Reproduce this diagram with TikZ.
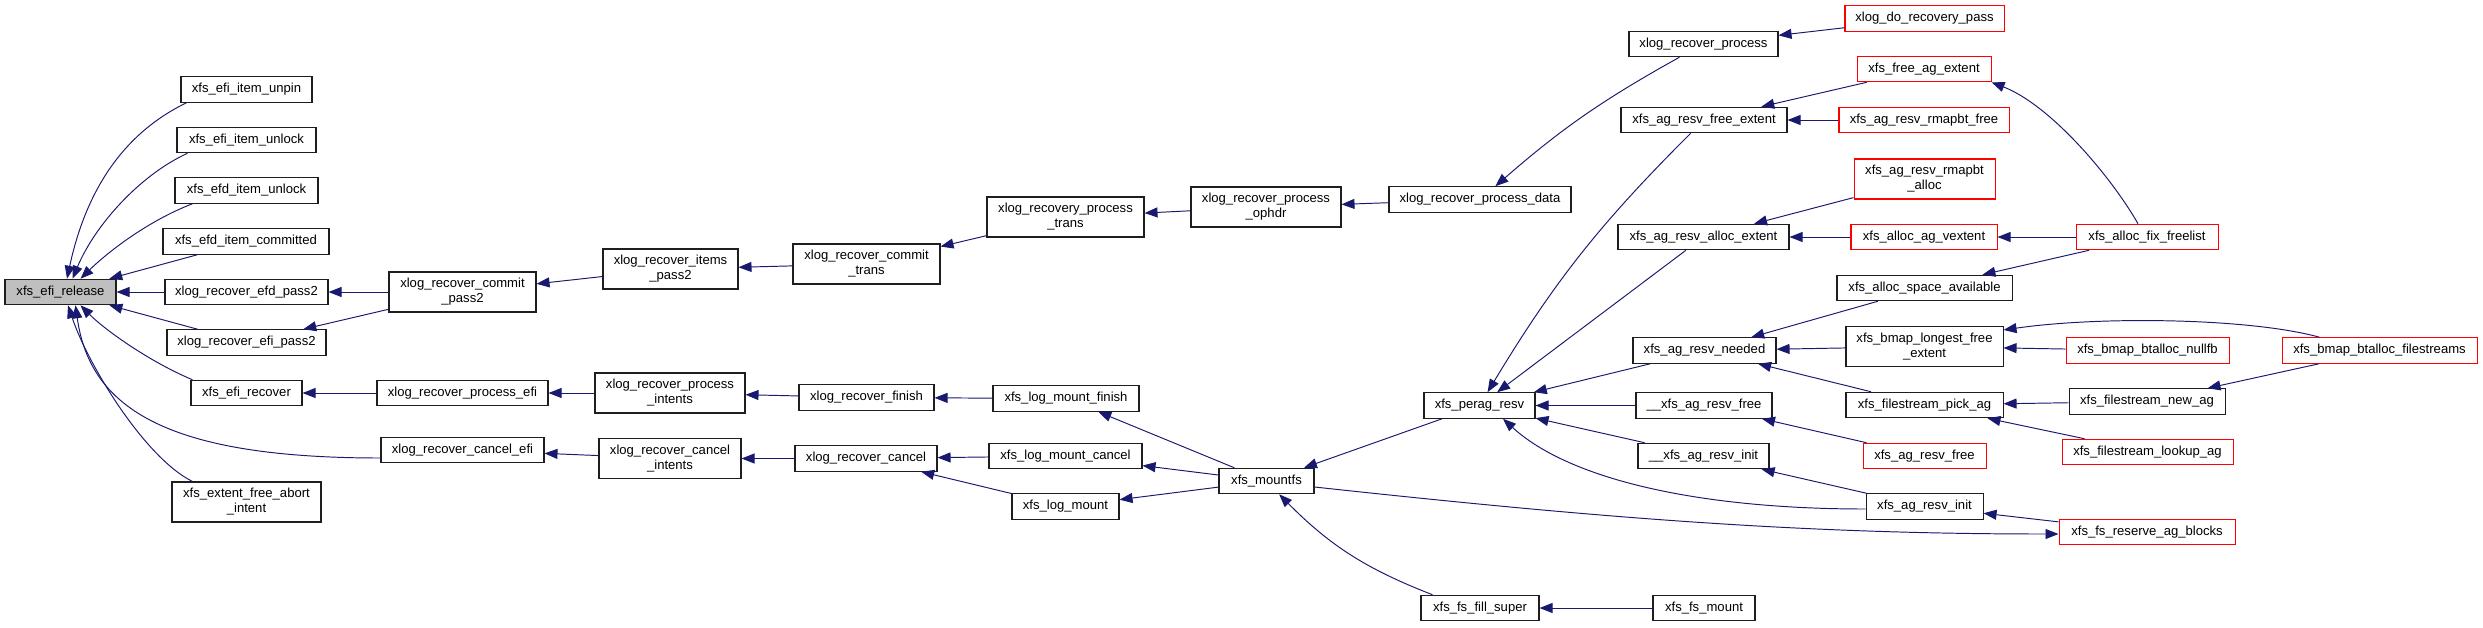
\documentclass[tikz,border=0pt]{standalone}
\usepackage{fontspec}
\setmainfont{Liberation Sans}
\usetikzlibrary{arrows.meta}
\definecolor{edgeC}{RGB}{25,25,112}
\definecolor{rootC}{RGB}{191,191,191}
\definecolor{boxC}{RGB}{30,30,30}
\definecolor{redC}{RGB}{255,0,0}
\tikzset{
  fnbox/.style={rectangle, draw=#1, line width=0.6pt, fill=white, align=center,
                font=\fontsize{7.45}{8.5}\selectfont, inner sep=0pt, minimum height=25.5*0.2mm},
  twoline/.style={minimum height=40*0.2mm},
  wd/.style={minimum width=#1*0.2mm},
  arr/.style={-{Triangle[length=2.6mm, width=2mm]}, line width=0.55pt, draw=edgeC},
}
\begin{document}
\begin{tikzpicture}[x=0.2mm, y=0.2mm]
    \useasboundingbox (0,0) rectangle (2483,-627);
    \node[fnbox=boxC, fill=rootC, wd=111] (rel) at (60.5,-292) {xfs\_efi\_release};
    \node[fnbox=boxC, wd=131] (unpin) at (246.5,-89.5) {xfs\_efi\_item\_unpin};
    \node[fnbox=boxC, wd=139] (unlock) at (246.5,-140) {xfs\_efi\_item\_unlock};
    \node[fnbox=boxC, wd=143] (efdunlock) at (246.5,-190.5) {xfs\_efd\_item\_unlock};
    \node[fnbox=boxC, wd=166] (efdcomm) at (246,-241.5) {xfs\_efd\_item\_committed};
    \node[fnbox=boxC, wd=163] (efdpass) at (246.5,-292) {xlog\_recover\_efd\_pass2};
    \node[fnbox=boxC, wd=159] (efipass) at (246.5,-342.5) {xlog\_recover\_efi\_pass2};
    \node[fnbox=boxC, wd=111] (efirec) at (246.5,-393) {xfs\_efi\_recover};
    \node[fnbox=boxC, wd=149, twoline] (abort) at (246.5,-502) {xfs\_extent\_free\_abort\\\_intent};
    \node[fnbox=boxC, wd=147, twoline] (commitpass) at (462.5,-292) {xlog\_recover\_commit\\\_pass2};
    \node[fnbox=boxC, wd=171] (procefi) at (462.5,-393) {xlog\_recover\_process\_efi};
    \node[fnbox=boxC, wd=163] (cancelefi) at (462.5,-450) {xlog\_recover\_cancel\_efi};
    \node[fnbox=boxC, wd=135, twoline] (itemspass) at (670.5,-269) {xlog\_recover\_items\\\_pass2};
    \node[fnbox=boxC, wd=150, twoline] (procintents) at (670,-393) {xlog\_recover\_process\\\_intents};
    \node[fnbox=boxC, wd=142, twoline] (cancelintents) at (670,-458.5) {xlog\_recover\_cancel\\\_intents};
    \node[fnbox=boxC, wd=147, twoline] (committrans) at (866.5,-264) {xlog\_recover\_commit\\\_trans};
    \node[fnbox=boxC, wd=135] (recfinish) at (866.5,-397.5) {xlog\_recover\_finish};
    \node[fnbox=boxC, wd=142] (reccancel) at (866,-458.5) {xlog\_recover\_cancel};
    \node[fnbox=boxC, wd=157, twoline] (proctrans) at (1065.5,-217) {xlog\_recovery\_process\\\_trans};
    \node[fnbox=boxC, wd=146] (lmfinish) at (1066,-398.5) {xfs\_log\_mount\_finish};
    \node[fnbox=boxC, wd=153] (lmcancel) at (1065.5,-456) {xfs\_log\_mount\_cancel};
    \node[fnbox=boxC, wd=107] (logmount) at (1065.5,-506.5) {xfs\_log\_mount};
    \node[fnbox=boxC, wd=150, twoline] (ophdr) at (1266,-207) {xlog\_recover\_process\\\_ophdr};
    \node[fnbox=boxC, wd=95] (mountfs) at (1266.5,-481) {xfs\_mountfs};
    \node[fnbox=boxC, wd=182] (procdata) at (1480,-199.5) {xlog\_recover\_process\_data};
    \node[fnbox=boxC, wd=111] (peragresv) at (1479.5,-405.5) {xfs\_perag\_resv};
    \node[fnbox=boxC, wd=118] (fillsuper) at (1480,-608) {xfs\_fs\_fill\_super};
    \node[fnbox=boxC, wd=149] (recproc) at (1703.5,-44) {xlog\_recover\_process};
    \node[fnbox=boxC, wd=166] (freeext) at (1704,-120) {xfs\_ag\_resv\_free\_extent};
    \node[fnbox=boxC, wd=171] (allocext) at (1703.5,-237) {xfs\_ag\_resv\_alloc\_extent};
    \node[fnbox=boxC, wd=143] (needed) at (1704.5,-350.5) {xfs\_ag\_resv\_needed};
    \node[fnbox=boxC, wd=136] (uufree) at (1704,-405.5) {\_\_xfs\_ag\_resv\_free};
    \node[fnbox=boxC, wd=131] (uuinit) at (1703.5,-456) {\_\_xfs\_ag\_resv\_init};
    \node[fnbox=boxC, wd=102] (fsmount) at (1704,-608) {xfs\_fs\_mount};
    \node[fnbox=redC, wd=159] (dopass) at (1924.5,-18.5) {xlog\_do\_recovery\_pass};
    \node[fnbox=redC, wd=134] (freeagext) at (1924,-69) {xfs\_free\_ag\_extent};
    \node[fnbox=redC, wd=170] (rmapfree) at (1924,-120) {xfs\_ag\_resv\_rmapbt\_free};
    \node[fnbox=redC, wd=141, twoline] (rmapalloc) at (1924.5,-179) {xfs\_ag\_resv\_rmapbt\\\_alloc};
    \node[fnbox=redC, wd=146] (agvext) at (1924,-237) {xfs\_alloc\_ag\_vextent};
    \node[fnbox=boxC, wd=175] (spaceavail) at (1924.5,-288) {xfs\_alloc\_space\_available};
    \node[fnbox=boxC, wd=157, twoline] (longest) at (1924.5,-346.5) {xfs\_bmap\_longest\_free\\\_extent};
    \node[fnbox=boxC, wd=157] (pickag) at (1924.5,-405) {xfs\_filestream\_pick\_ag};
    \node[fnbox=redC, wd=123] (agresvfree) at (1924.5,-456) {xfs\_ag\_resv\_free};
    \node[fnbox=boxC, wd=117] (agresvinit) at (1924.5,-506.5) {xfs\_ag\_resv\_init};
    \node[fnbox=redC, wd=142] (fixfree) at (2147,-237) {xfs\_alloc\_fix\_freelist};
    \node[fnbox=redC, wd=163] (nullfb) at (2147.5,-350.5) {xfs\_bmap\_btalloc\_nullfb};
    \node[fnbox=boxC, wd=156] (newag) at (2147,-401.5) {xfs\_filestream\_new\_ag};
    \node[fnbox=redC, wd=171] (lookupag) at (2147.5,-452) {xfs\_filestream\_lookup\_ag};
    \node[fnbox=redC, wd=176] (reserve) at (2147,-532) {xfs\_fs\_reserve\_ag\_blocks};
    \node[fnbox=redC, wd=195] (btfilestr) at (2379.5,-350.5) {xfs\_bmap\_btalloc\_filestreams};

    \draw[arr] ([xshift=1.2mm]unpin.south west) .. controls (120,-135) and (85,-195) .. ([xshift=1.3mm]rel.north);
    \draw[arr] ([xshift=2.2mm]unlock.south west) .. controls (140,-175) and (95,-225) .. ([xshift=2.4mm]rel.north);
    \draw[arr] ([xshift=3.6mm]efdunlock.south west) .. controls (150,-220) and (110,-250) .. ([xshift=4mm]rel.north);
    \draw[arr] (efdcomm) -- (rel); \draw[arr] (efdpass) -- (rel); \draw[arr] (efipass) -- (rel);
    \draw[arr] ([xshift=0.4mm]efirec.north west) .. controls (150,-362) and (105,-330) .. ([xshift=4mm]rel.south);
    \draw[arr] ([yshift=-1.6mm]cancelefi.west) .. controls (170,-458) and (90,-410) .. ([xshift=3mm]rel.south);
    \draw[arr] ([xshift=4.2mm]abort.north west) .. controls (145,-458) and (88,-365) .. ([xshift=1.5mm]rel.south);
    \draw[arr] (commitpass) -- (efdpass); \draw[arr] (commitpass) -- (efipass);
    \draw[arr] (itemspass) -- (commitpass); \draw[arr] (committrans) -- (itemspass);
    \draw[arr] (proctrans) -- (committrans); \draw[arr] (ophdr) -- (proctrans);
    \draw[arr] (procdata) -- (ophdr); \draw[arr] (recproc) to[bend right=6] (procdata);
    \draw[arr] (dopass) -- (recproc);
    \draw[arr] (procefi) -- (efirec); \draw[arr] (procintents) -- (procefi);
    \draw[arr] (recfinish) -- (procintents); \draw[arr] (lmfinish) -- (recfinish);
    \draw[arr] (cancelintents) -- (cancelefi); \draw[arr] (reccancel) -- (cancelintents);
    \draw[arr] (lmcancel) -- (reccancel); \draw[arr] (logmount) -- (reccancel);
    \draw[arr] (mountfs) -- (lmfinish); \draw[arr] (mountfs) -- (lmcancel); \draw[arr] (mountfs) -- (logmount);
    \draw[arr] (peragresv) -- (mountfs);
    \draw[arr] ([xshift=2.4mm]fillsuper.north west) to[bend left=12] (mountfs);
    \draw[arr] (fsmount) -- (fillsuper);
    \draw[arr] (freeext) to[bend right=7] (peragresv); \draw[arr] (allocext) -- (peragresv);
    \draw[arr] (needed) -- (peragresv); \draw[arr] (uufree) -- (peragresv); \draw[arr] (uuinit) -- (peragresv);
    \draw[arr] ([yshift=-0.5mm]agresvinit.west) .. controls (1700,-509) and (1570,-480) .. ([xshift=4.7mm]peragresv.south);
    \draw[arr] (freeagext) -- (freeext); \draw[arr] (rmapfree) -- (freeext);
    \draw[arr] ([xshift=-1.8mm]fixfree.north) .. controls (2110,-175) and (2050,-105) .. (freeagext.south east);
    \draw[arr] (rmapalloc) -- (allocext); \draw[arr] (agvext) -- (allocext); \draw[arr] (fixfree) -- (agvext);
    \draw[arr] (spaceavail) -- (needed); \draw[arr] (fixfree) -- (spaceavail);
    \draw[arr] (longest) -- (needed); \draw[arr] (pickag) -- (needed);
    \draw[arr] (nullfb) -- (longest);
    \draw[arr] ([xshift=7.6mm]btfilestr.north west) .. controls (2250,-318) and (2100,-316) .. ([yshift=-0.8mm]longest.north east);
    \draw[arr] (newag) -- (pickag); \draw[arr] (lookupag) -- (pickag); \draw[arr] (btfilestr) -- (newag);
    \draw[arr] (agresvfree) -- (uufree); \draw[arr] (agresvinit) -- (uuinit);
    \draw[arr] (reserve) -- (agresvinit);
    \draw[arr] ([yshift=-1.2mm]mountfs.east) .. controls (1600,-518) and (1800,-534) .. ([yshift=-0.4mm]reserve.west);
  \end{tikzpicture}
\end{document}
